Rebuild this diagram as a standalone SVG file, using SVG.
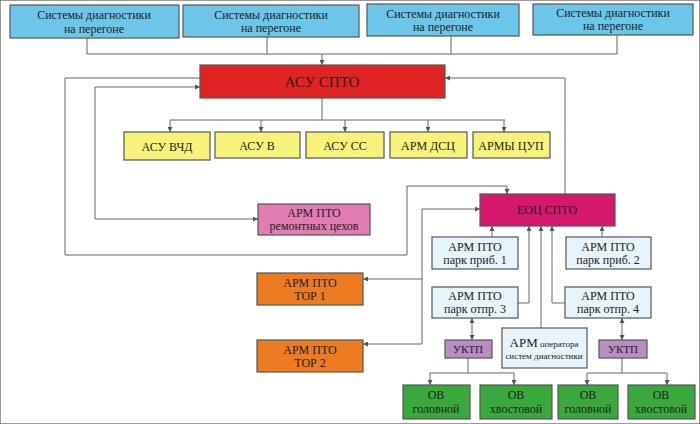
<svg xmlns="http://www.w3.org/2000/svg" width="700" height="424" viewBox="0 0 700 424">
<defs>
<marker id="a" viewBox="0 0 6 6" refX="6" refY="3" markerWidth="5" markerHeight="5" orient="auto-start-reverse"><path d="M0,0L6,3L0,6z" fill="#555"/></marker>
</defs>
<style>
rect{stroke:#555;stroke-width:1.2}
.b{fill:#6cc6ea}.r{fill:#e02424}.y{fill:#f7f27a}.m{fill:#d6186c}.p{fill:#e17db3}.o{fill:#ec7b22}.l{fill:#e8f4fb}.v{fill:#b98cc4}.g{fill:#3aa83c}
text{font-family:"Liberation Serif",serif;font-size:12px;fill:#222;text-anchor:middle}
.c path{fill:none;stroke:#666;stroke-width:1}
</style>
<rect width="700" height="424" fill="#fff" stroke="none"/>
<g class="c">
<path d="M87,38V54H617M267,37V54M451,36V54M617,35V54"/>
<path d="M322,54V65" marker-end="url(#a)"/>
<path d="M322,98V120M170,120H505"/>
<path d="M170,120V132" marker-end="url(#a)"/><path d="M261,120V132" marker-end="url(#a)"/><path d="M345,120V132" marker-end="url(#a)"/><path d="M428,120V132" marker-end="url(#a)"/><path d="M504,120V132" marker-end="url(#a)"/>
<path d="M200,78H65V255H407V186H507V194" marker-end="url(#a)"/>
<path d="M200,87H95V219H258" marker-start="url(#a)" marker-end="url(#a)"/>
<path d="M565,194V78H445" marker-end="url(#a)"/>
<path d="M492,237V226" marker-end="url(#a)"/>
<path d="M518,303H529V226" marker-end="url(#a)"/>
<path d="M541,328V226" marker-end="url(#a)"/>
<path d="M565,303H552V226" marker-end="url(#a)"/>
<path d="M602,237V226" marker-end="url(#a)"/>
<path d="M480,209H422V344" marker-start="url(#a)"/>
<path d="M422,279H363" marker-end="url(#a)"/><path d="M422,344H363" marker-end="url(#a)"/>
<path d="M472,318V340" marker-start="url(#a)" marker-end="url(#a)"/>
<path d="M622,318V340" marker-start="url(#a)" marker-end="url(#a)"/>
<path d="M468,358V373M430,373H514"/><path d="M430,373V385" marker-end="url(#a)"/><path d="M514,373V385" marker-end="url(#a)"/>
<path d="M622,358V373M587,373H667"/><path d="M587,373V385" marker-end="url(#a)"/><path d="M667,373V385" marker-end="url(#a)"/>
</g>
<g id="s1"><rect class="b" x="10" y="5" width="169" height="33"/><text x="94" y="19">Системы диагностики</text><text x="94" y="33">на перегоне</text></g>
<g id="s2"><rect class="b" x="183" y="5" width="176" height="32"/><text x="271" y="19">Системы диагностики</text><text x="271" y="32">на перегоне</text></g>
<g id="s3"><rect class="b" x="367" y="4" width="152" height="32"/><text x="443" y="18">Системы диагностики</text><text x="443" y="31">на перегоне</text></g>
<g id="s4"><rect class="b" x="533" y="4" width="160" height="31"/><text x="613" y="17">Системы диагностики</text><text x="613" y="30">на перегоне</text></g>
<g id="asu"><rect class="r" x="200" y="65" width="245" height="33"/><text x="322" y="87" style="font-size:15px">АСУ СПТО</text></g>
<g id="y1"><rect class="y" x="124" y="132" width="86" height="28"/><text x="167" y="151">АСУ ВЧД</text></g>
<g id="y2"><rect class="y" x="215" y="132" width="85" height="26"/><text x="257" y="150">АСУ В</text></g>
<g id="y3"><rect class="y" x="306" y="132" width="78" height="26"/><text x="345" y="150">АСУ СС</text></g>
<g id="y4"><rect class="y" x="390" y="132" width="77" height="26"/><text x="428" y="150">АРМ ДСЦ</text></g>
<g id="y5"><rect class="y" x="473" y="132" width="77" height="26"/><text x="511" y="150">АРМЫ ЦУП</text></g>
<g id="eoc"><rect class="m" x="480" y="194" width="135" height="32"/><text x="547" y="214">ЕОЦ СПТО</text></g>
<g id="rem"><rect class="p" x="258" y="204" width="112" height="31"/><text x="314" y="217">АРМ ПТО</text><text x="314" y="230">ремонтных цехов</text></g>
<g id="tor1"><rect class="o" x="257" y="273" width="106" height="32"/><text x="310" y="287">АРМ ПТО</text><text x="310" y="300">ТОР 1</text></g>
<g id="tor2"><rect class="o" x="257" y="340" width="106" height="32"/><text x="310" y="354">АРМ ПТО</text><text x="310" y="367">ТОР 2</text></g>
<g id="p1"><rect class="l" x="432" y="237" width="86" height="32"/><text x="475" y="251">АРМ ПТО</text><text x="475" y="264">парк приб. 1</text></g>
<g id="p2"><rect class="l" x="566" y="237" width="85" height="32"/><text x="608" y="251">АРМ ПТО</text><text x="608" y="264">парк приб. 2</text></g>
<g id="p3"><rect class="l" x="432" y="287" width="86" height="31"/><text x="475" y="300">АРМ ПТО</text><text x="475" y="313">парк отпр. 3</text></g>
<g id="p4"><rect class="l" x="565" y="287" width="86" height="31"/><text x="608" y="300">АРМ ПТО</text><text x="608" y="313">парк отпр. 4</text></g>
<g id="op"><rect class="l" x="502" y="328" width="85" height="40"/><text x="544" y="347"><tspan style="font-size:13px">АРМ</tspan><tspan style="font-size:9px"> оператора</tspan></text><text x="544" y="359" style="font-size:9px">систем диагностики</text></g>
<g id="u1"><rect class="v" x="445" y="340" width="47" height="18"/><text x="468" y="353" style="font-size:11px">УКТП</text></g>
<g id="u2"><rect class="v" x="599" y="340" width="48" height="18"/><text x="623" y="353" style="font-size:11px">УКТП</text></g>
<g id="g1"><rect class="g" x="403" y="385" width="67" height="34"/><text x="436" y="399">ОВ</text><text x="436" y="413">головной</text></g>
<g id="g2"><rect class="g" x="480" y="385" width="72" height="34"/><text x="516" y="399">ОВ</text><text x="516" y="413">хвостовой</text></g>
<g id="g3"><rect class="g" x="558" y="385" width="60" height="34"/><text x="588" y="399">ОВ</text><text x="588" y="413">головной</text></g>
<g id="g4"><rect class="g" x="628" y="385" width="67" height="34"/><text x="661" y="399">ОВ</text><text x="661" y="413">хвостовой</text></g>
</svg>
